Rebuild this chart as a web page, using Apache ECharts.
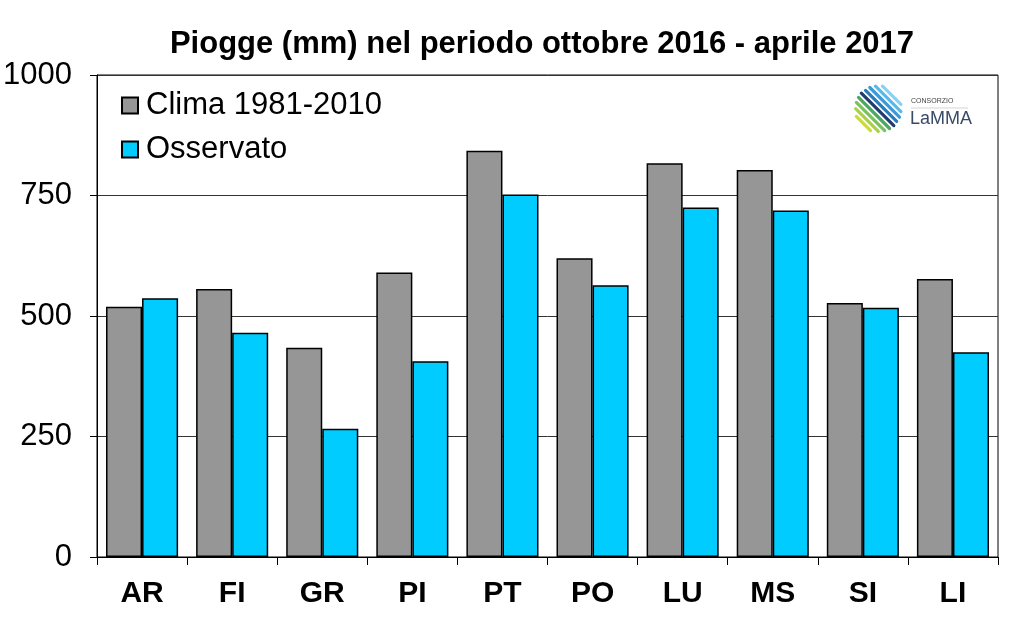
<!DOCTYPE html>
<html><head><meta charset="utf-8">
<script src="https://cdn.jsdelivr.net/npm/echarts@6/dist/echarts.min.js"></script>
<style>html,body{margin:0;padding:0;background:#fff}#c{width:1024px;height:635px}</style>
</head><body><div id="c"></div>
<script>
const categories = ['AR','FI','GR','PI','PT','PO','LU','MS','SI','LI'];
const clima = [519, 556, 434, 590, 843, 620, 817, 803, 527, 577];
const osservato = [537, 465, 266, 406, 752, 564, 725, 719, 517, 425];
const yTicks = [0, 250, 500, 750, 1000];
const seriesNames = ['Clima 1981-2010', 'Osservato'];
const titleText = 'Piogge (mm) nel periodo ottobre 2016 - aprile 2017';

const F = '"Liberation Sans", Arial, sans-serif';
const chart = echarts.init(document.getElementById('c'), null, {renderer:'canvas'});

// logo stripes (decorative)
const stripes = [];
const stripeDefs = [
  [-22, 10, '#c8dc3c'], [-17, 16, '#a8d048'], [-12, 20, '#7cc060'], [-7, 22, '#4aa860'],
  [-2, 23, '#1f3d6e'], [3, 22, '#2a7cc0'], [8, 21, '#3a9ad8'], [13, 18, '#5ab8e8'], [18, 13, '#8ad0f0']
];
const cx = 879, cy = 108;
const d = [Math.SQRT1_2, Math.SQRT1_2], n = [Math.SQRT1_2, -Math.SQRT1_2];
stripeDefs.forEach(s => {
  const ox = cx + n[0]*s[0], oy = cy + n[1]*s[0];
  stripes.push({type:'line', shape:{x1:ox - d[0]*s[1], y1:oy - d[1]*s[1], x2:ox + d[0]*s[1], y2:oy + d[1]*s[1]},
    style:{stroke:s[2], lineWidth:3.2, lineCap:'round'}, z:10});
});

chart.setOption({
  animation:false,
  backgroundColor:'#fff',
  title:{text:titleText, left:537, textAlign:'center', top:24,
    textStyle:{fontFamily:F, fontSize:31, fontWeight:'bold', color:'#000'}},
  grid:{left:97, right:26, top:75, bottom:78, show:true, borderColor:'#000', borderWidth:1},
  legend:{data:seriesNames, orient:'vertical', left:121, top:90, padding:0, itemGap:13, itemWidth:16, itemHeight:16,
    icon:'rect', textStyle:{fontFamily:F, fontSize:31, color:'#000', padding:[0,0,0,3]}},
  xAxis:{type:'category', data:categories,
    axisLine:{lineStyle:{color:'#000', width:1}},
    axisTick:{show:true, alignWithLabel:false, length:8, lineStyle:{color:'#000'}},
    axisLabel:{fontFamily:F, fontSize:30, fontWeight:'bold', color:'#000', margin:22}},
  yAxis:{type:'value', min:yTicks[0], max:yTicks[yTicks.length-1], interval:yTicks[1]-yTicks[0],
    axisLine:{show:true, lineStyle:{color:'#000'}},
    axisTick:{show:true, length:7, inside:false, lineStyle:{color:'#000'}},
    axisLabel:{fontFamily:F, fontSize:31, color:'#000', margin:25, formatter:v => String(v)},
    splitLine:{show:true, lineStyle:{color:'#333', width:1}}},
  series:[
    {name:seriesNames[0], type:'bar', data:clima, barGap:'0%', barCategoryGap:'20%',
      itemStyle:{color:'#969696', borderColor:'#000', borderWidth:1.5}},
    {name:seriesNames[1], type:'bar', data:osservato,
      itemStyle:{color:'#00ccff', borderColor:'#000', borderWidth:1.5}}
  ],
  graphic: stripes.concat([
    {type:'text', left:911, top:98, style:{text:'CONSORZIO', fontFamily:F, fontSize:7, fill:'#444'}, z:10},
    {type:'line', shape:{x1:911, y1:108, x2:968, y2:108}, style:{stroke:'#bbb', lineWidth:0.6}, z:10},
    {type:'text', left:910, top:110, style:{text:'LaMMA', fontFamily:F, fontSize:18, fill:'#3a4a66'}, z:10}
  ])
});
</script></body></html>
